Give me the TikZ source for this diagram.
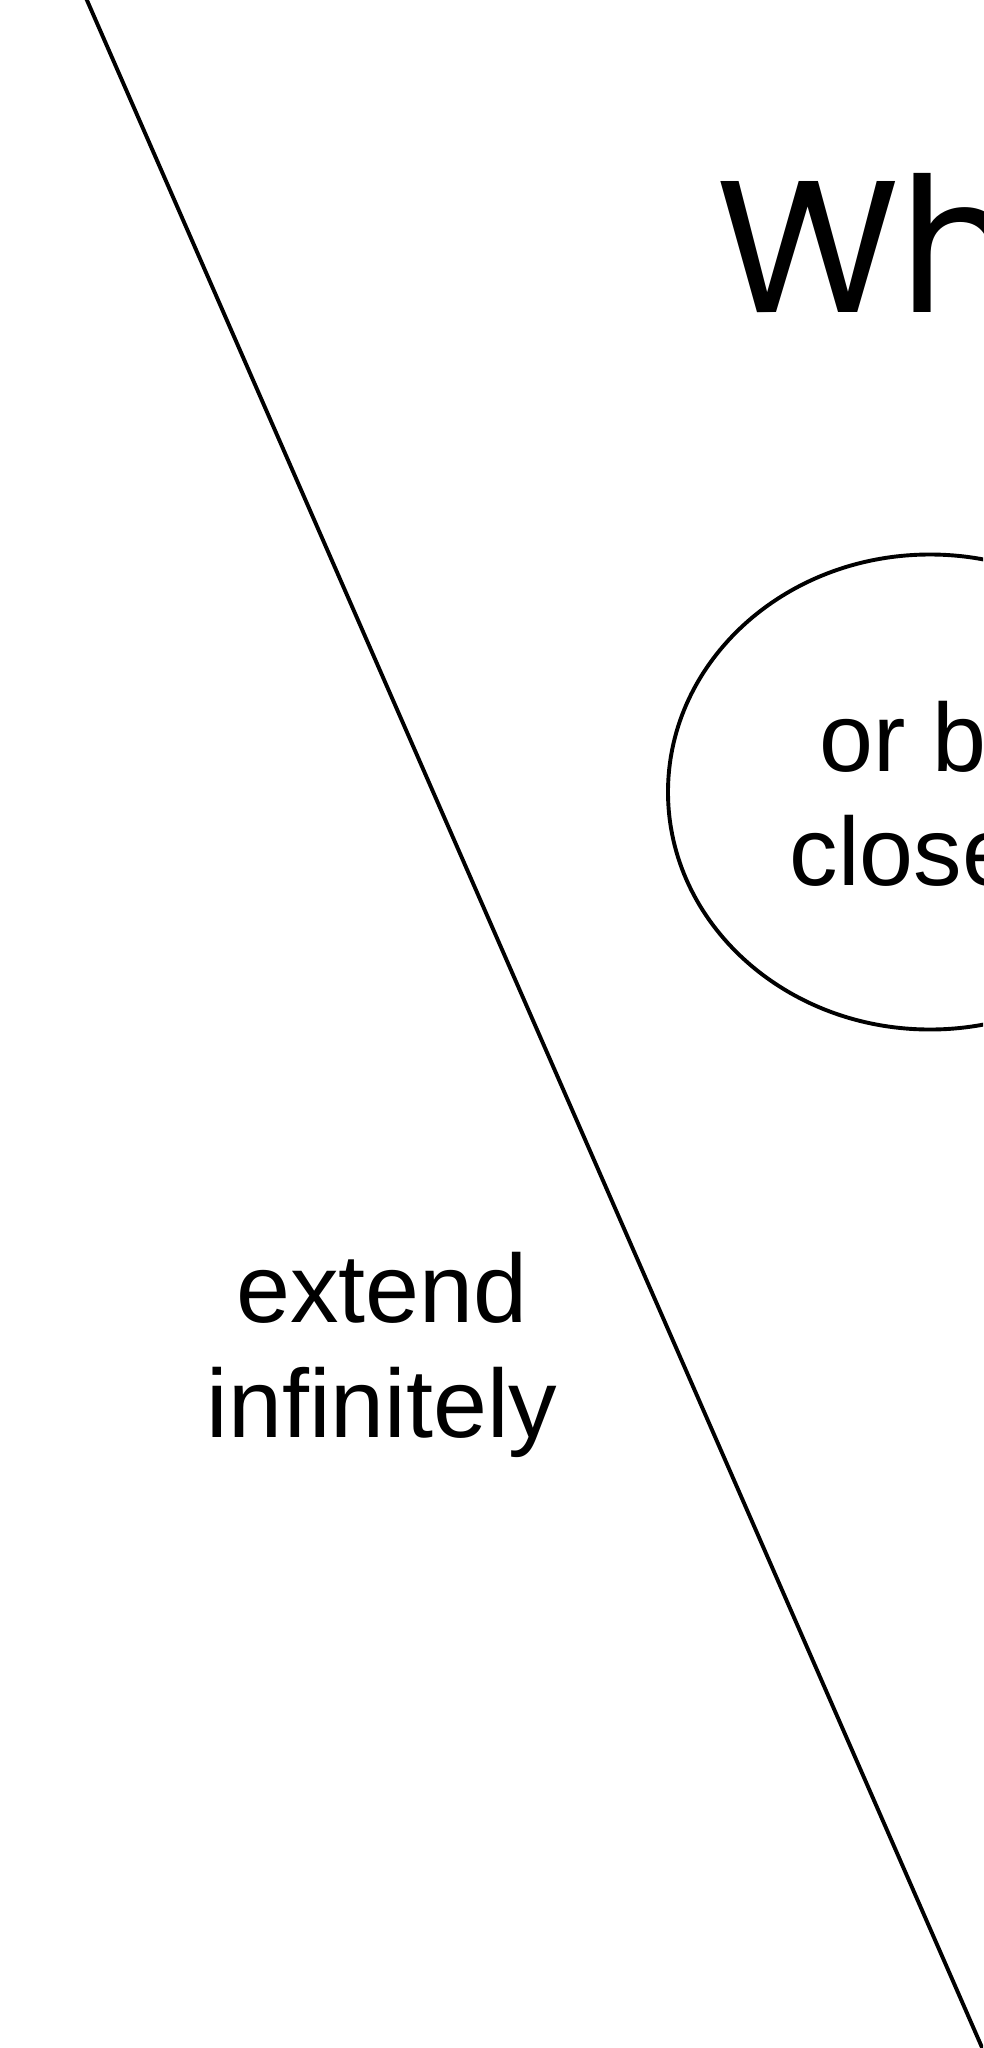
\documentclass[tikz,border=0pt]{standalone}
\usepackage{fontspec}
\setmainfont{Liberation Sans}
\newfontfamily\titlefont{Poppins}
\usetikzlibrary{shapes.geometric}
\tikzset{
  stroke/.style={line width=3.9pt, black},
  body/.style={font=\fontsize{97}{114}\selectfont, inner sep=0pt},
}
\begin{document}
\begin{tikzpicture}[x=1pt,y=-1pt]
\useasboundingbox (0,0) rectangle (983,2048);
\clip (0,0) rectangle (983,2048);
\fill[white] (0,0) rectangle (983,2048);
\coordinate (ltop) at (86,-2);
\coordinate (lbot) at (984,2052);
\draw[stroke] (ltop) -- (lbot);
\node[anchor=base west, inner sep=0pt, font=\titlefont\fontsize{188}{200}\selectfont] (title) at (716,312) {What is a shape?};
\node[draw, stroke, ellipse, minimum width=524pt, minimum height=475pt, inner sep=0pt] (closed) at (930,792) {};
\node[body, anchor=base] (l1) at (930,771) {or be};
\node[body, anchor=base] (l2) at (930,885) {closed};
\node[body, anchor=base] (e1) at (382,1322) {extend};
\node[body, anchor=base] (e2) at (382,1437) {infinitely};
\end{tikzpicture}
\end{document}
